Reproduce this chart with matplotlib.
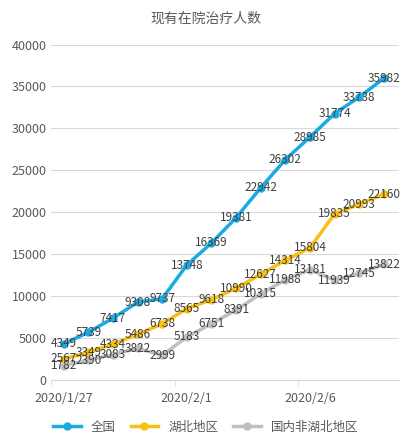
import matplotlib
matplotlib.use("Agg")
import matplotlib.pyplot as plt

plt.rcParams['font.family'] = ['Noto Sans CJK SC', 'DejaVu Sans']

dates = ["2020/1/27","2020/1/28","2020/1/29","2020/1/30","2020/1/31","2020/2/1","2020/2/2",
         "2020/2/3","2020/2/4","2020/2/5","2020/2/6","2020/2/7","2020/2/8","2020/2/9"]
national = [4349,5739,7417,9308,9737,13748,16369,19381,22942,26302,28985,31774,33738,35982]
hubei = [2567,3349,4334,5486,6738,8565,9618,10990,12627,14314,15804,19835,20993,22160]
non_hubei = [1782,2390,3083,3822,2999,5183,6751,8391,10315,11988,13181,11939,12745,13822]
tick_idx = [0,5,10]

fig = plt.figure(figsize=(4.11,4.45), dpi=100)
ax = fig.add_axes([0.125, 0.145, 0.845, 0.755])
x = list(range(len(dates)))
series = [("全国", national, "#1AABE3"), ("湖北地区", hubei, "#F9C012"), ("国内非湖北地区", non_hubei, "#BFBFBF")]
for name, vals, c in series:
    ax.plot(x, vals, color=c, lw=2.5, marker='o', ms=5, label=name)
    for xi, v in zip(x, vals):
        ax.text(xi, v, str(v), ha='center', va='center', fontsize=8.5, color='#404040')
ax.set_ylim(0, 40000)
ax.set_yticks(range(0, 40001, 5000))
ax.set_xlim(-0.5, 13.6)
ax.set_xticks(tick_idx)
ax.set_xticklabels([dates[i] for i in tick_idx])
ax.set_xticks([-0.5, 4.5, 9.5], minor=True)
ax.tick_params(axis='x', which='major', length=0, labelsize=9, colors='#595959', pad=8)
ax.tick_params(axis='x', which='minor', length=4, color='#D9D9D9')
ax.tick_params(axis='y', length=0, labelsize=9, colors='#595959')
ax.grid(axis='y', color='#D9D9D9', lw=0.8)
ax.set_axisbelow(True)
for s in ['top','right','left']:
    ax.spines[s].set_visible(False)
ax.spines['bottom'].set_color('#D9D9D9')
fig.suptitle("现有在院治疗人数", y=0.975, fontsize=10, color='#595959')
fig.legend(loc='lower center', ncol=3, frameon=False, fontsize=9, bbox_to_anchor=(0.5, 0.0),
           handlelength=2.2, columnspacing=1.2, labelcolor='#595959')
fig.savefig("out.png")
